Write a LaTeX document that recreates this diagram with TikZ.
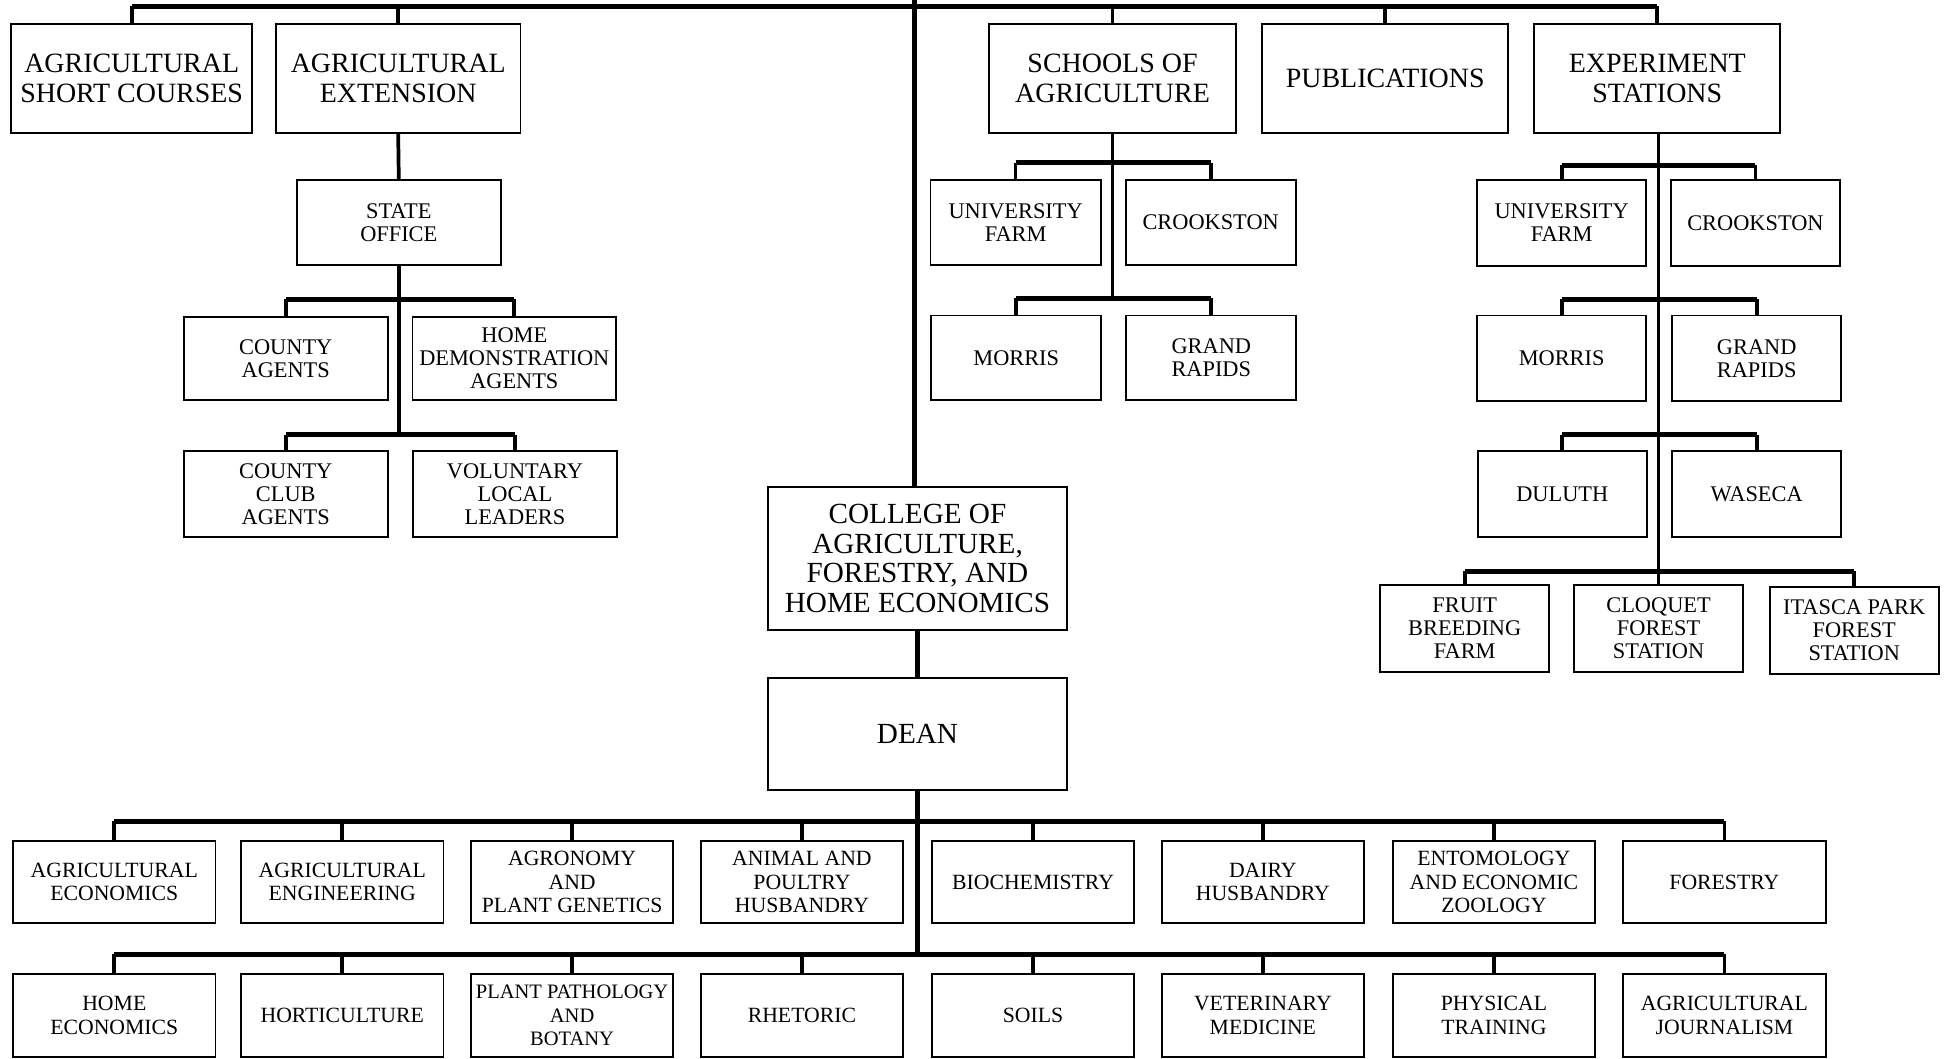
\documentclass[tikz,border=0pt]{standalone}
\usepackage{fontspec}
\setmainfont{Liberation Serif}
\begin{document}
\begin{tikzpicture}[x=1pt,y=-1pt,
  box/.style={draw, line width=1.5pt, inner sep=0pt, align=center, anchor=center},
  bigbox/.style={box, font=\fontsize{22.5}{24}\selectfont},
  medbox/.style={box, font=\fontsize{18}{18.5}\selectfont},
  deptbox/.style={box, font=\fontsize{17.5}{19}\selectfont, minimum width=163pt, minimum height=66pt},
  bar/.style={line width=4pt},
  drop/.style={line width=3pt},
  trunk/.style={line width=4pt}]
\useasboundingbox (0,0) rectangle (1568,852);
\fill[white] (0,0) rectangle (1568,852);

% ---- top row
\node[bigbox, minimum width=194pt, minimum height=88pt] (shortc) at (106,63) {AGRICULTURAL\\SHORT COURSES};
\node[bigbox, minimum width=197pt, minimum height=88pt] (ext) at (320.5,63) {AGRICULTURAL\\EXTENSION};
\node[bigbox, minimum width=199pt, minimum height=88pt] (schools) at (895.5,63) {SCHOOLS OF\\AGRICULTURE};
\node[bigbox, minimum width=198pt, minimum height=88pt] (pubs) at (1115,63) {PUBLICATIONS};
\node[bigbox, minimum width=198pt, minimum height=88pt] (expst) at (1334,63) {EXPERIMENT\\STATIONS};

% ---- extension subtree
\node[medbox, minimum width=164pt, minimum height=68pt] (stateoff) at (321,179) {STATE\\OFFICE};
\node[medbox, minimum width=164pt, minimum height=67pt] (cagents) at (230,288.5) {COUNTY\\AGENTS};
\node[medbox, minimum width=164pt, minimum height=67pt] (homedem) at (414,288.5) {HOME\\DEMONSTRATION\\AGENTS};
\node[medbox, minimum width=164pt, minimum height=69pt] (cclub) at (230,397.5) {COUNTY\\CLUB\\AGENTS};
\node[medbox, minimum width=164pt, minimum height=69pt] (vol) at (414.5,397.5) {VOLUNTARY\\LOCAL\\LEADERS};

% ---- schools subtree
\node[medbox, minimum width=137pt, minimum height=68pt] (sUF) at (817.5,179) {UNIVERSITY\\FARM};
\node[medbox, minimum width=137pt, minimum height=68pt] (sCr) at (974.5,179) {CROOKSTON};
\node[medbox, minimum width=137pt, minimum height=68pt] (sMo) at (818,288) {MORRIS};
\node[medbox, minimum width=137pt, minimum height=68pt] (sGR) at (975,288) {GRAND\\RAPIDS};

% ---- experiment stations subtree
\node[medbox, minimum width=136pt, minimum height=69pt] (eUF) at (1257,179.5) {UNIVERSITY\\FARM};
\node[medbox, minimum width=136pt, minimum height=69pt] (eCr) at (1413,179.5) {CROOKSTON};
\node[medbox, minimum width=136pt, minimum height=69pt] (eMo) at (1257,288.5) {MORRIS};
\node[medbox, minimum width=136pt, minimum height=69pt] (eGR) at (1414,288.5) {GRAND\\RAPIDS};
\node[medbox, minimum width=136pt, minimum height=69pt] (eDu) at (1257.5,397.5) {DULUTH};
\node[medbox, minimum width=136pt, minimum height=69pt] (eWa) at (1414,397.5) {WASECA};
\node[medbox, minimum width=136pt, minimum height=70pt] (eFr) at (1179,506) {FRUIT\\BREEDING\\FARM};
\node[medbox, minimum width=136pt, minimum height=70pt] (eCl) at (1335,506) {CLOQUET\\FOREST\\STATION};
\node[medbox, minimum width=136pt, minimum height=70pt] (eIt) at (1492.5,507.5) {ITASCA PARK\\FOREST\\STATION};

% ---- centre
\node[bigbox, font=\fontsize{23.5}{24}\selectfont, minimum width=241pt, minimum height=115pt] (college) at (738.5,449.5) {COLLEGE OF\\AGRICULTURE,\\FORESTRY, AND\\HOME ECONOMICS};
\node[bigbox, font=\fontsize{23.5}{24}\selectfont, minimum width=241pt, minimum height=90pt] (dean) at (738.5,591) {DEAN};

% ---- departments row 1
\node[deptbox] (d1) at (92,710) {AGRICULTURAL\\ECONOMICS};
\node[deptbox] (d2) at (275.5,710) {AGRICULTURAL\\ENGINEERING};
\node[deptbox] (d3) at (460.5,710) {AGRONOMY\\AND\\PLANT GENETICS};
\node[deptbox] (d4) at (645.5,710) {ANIMAL AND\\POULTRY\\HUSBANDRY};
\node[deptbox] (d5) at (831.5,710) {BIOCHEMISTRY};
\node[deptbox] (d6) at (1016.5,710) {DAIRY\\HUSBANDRY};
\node[deptbox] (d7) at (1202.5,710) {ENTOMOLOGY\\AND ECONOMIC\\ZOOLOGY};
\node[deptbox] (d8) at (1388,710) {FORESTRY};

% ---- departments row 2
\node[deptbox, minimum height=67pt] (e1) at (92,817.5) {HOME\\ECONOMICS};
\node[deptbox, minimum height=67pt] (e2) at (275.5,817.5) {HORTICULTURE};
\node[deptbox, minimum height=67pt, font=\fontsize{16.5}{19}\selectfont] (e3) at (460.5,817.5) {PLANT PATHOLOGY\\AND\\BOTANY};
\node[deptbox, minimum height=67pt] (e4) at (645.5,817.5) {RHETORIC};
\node[deptbox, minimum height=67pt] (e5) at (831.5,817.5) {SOILS};
\node[deptbox, minimum height=67pt] (e6) at (1016.5,817.5) {VETERINARY\\MEDICINE};
\node[deptbox, minimum height=67pt] (e7) at (1202.5,817.5) {PHYSICAL\\TRAINING};
\node[deptbox, minimum height=67pt] (e8) at (1388,817.5) {AGRICULTURAL\\JOURNALISM};

% ---- connector levels
\coordinate (tb) at (736,5);
\coordinate (top) at (736,0);
\coordinate (xb1) at (321,241);
\coordinate (xb2) at (321,350);
\coordinate (sb1) at (895,131);
\coordinate (sb2) at (895,240);
\coordinate (eb1) at (1335,133);
\coordinate (eb2) at (1335,241);
\coordinate (eb3) at (1335,350);
\coordinate (eb4) at (1335,460);
\coordinate (r1) at (738,661);
\coordinate (r2) at (738,768);

% top bar and trunk
\draw[bar] (shortc.north |- tb) -- (expst.north |- tb);
\foreach \n in {shortc,ext,schools,pubs,expst} \draw[drop] (\n.north) -- (\n.north |- tb);
\draw[trunk] (college.north -| tb) -- (top);

% extension
\draw[drop] (ext.south) -- (stateoff.north);
\draw[drop] (stateoff.south) -- (stateoff.south |- xb2);
\draw[bar] (cagents.north |- xb1) -- (homedem.north |- xb1);
\draw[bar] (cclub.north |- xb2) -- (vol.north |- xb2);
\foreach \n/\c in {cagents/xb1,homedem/xb1,cclub/xb2,vol/xb2} \draw[drop] (\n.north) -- (\n.north |- \c);

% schools
\draw[drop] (schools.south) -- (schools.south |- sb2);
\draw[bar] (sUF.north |- sb1) -- (sCr.north |- sb1);
\draw[bar] (sMo.north |- sb2) -- (sGR.north |- sb2);
\foreach \n/\c in {sUF/sb1,sCr/sb1,sMo/sb2,sGR/sb2} \draw[drop] (\n.north) -- (\n.north |- \c);

% experiment stations
\draw[drop] (expst.south -| eb1) -- (eb4);
\draw[bar] (eUF.north |- eb1) -- (eCr.north |- eb1);
\draw[bar] (eMo.north |- eb2) -- (eGR.north |- eb2);
\draw[bar] (eDu.north |- eb3) -- (eWa.north |- eb3);
\draw[bar] (eFr.north |- eb4) -- (eIt.north |- eb4);
\foreach \n/\c in {eUF/eb1,eCr/eb1,eMo/eb2,eGR/eb2,eDu/eb3,eWa/eb3,eFr/eb4,eCl/eb4,eIt/eb4} \draw[drop] (\n.north) -- (\n.north |- \c);

% college, dean, departments
\draw[trunk] (college.south) -- (dean.north);
\draw[trunk] (dean.south) -- (dean.south |- r2);
\draw[bar] (d1.north |- r1) -- (d8.north |- r1);
\draw[bar] (e1.north |- r2) -- (e8.north |- r2);
\foreach \n in {d1,d2,d3,d4,d5,d6,d7,d8} \draw[drop] (\n.north) -- (\n.north |- r1);
\foreach \n in {e1,e2,e3,e4,e5,e6,e7,e8} \draw[drop] (\n.north) -- (\n.north |- r2);
\end{tikzpicture}
\end{document}
